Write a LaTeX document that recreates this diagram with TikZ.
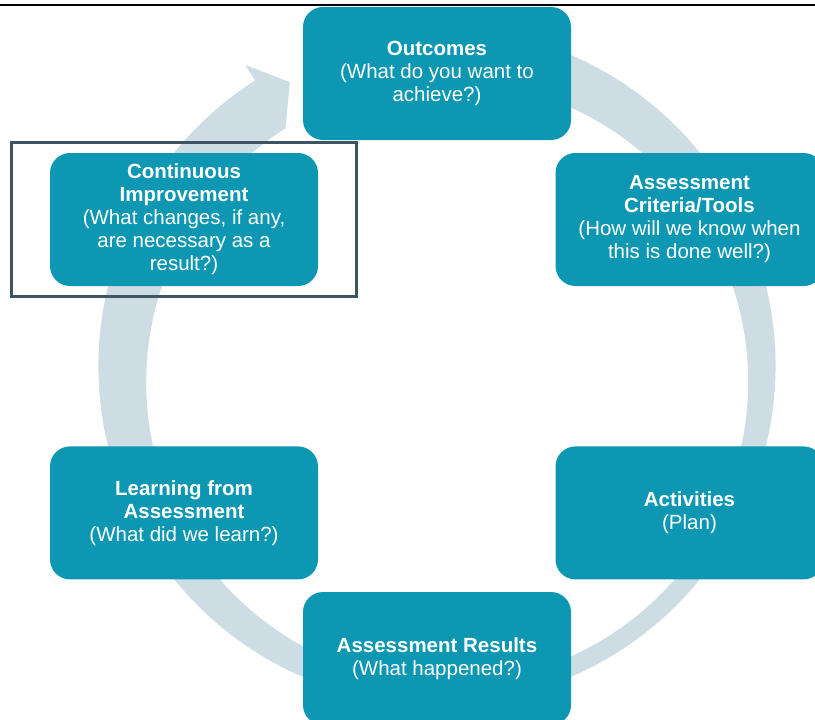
\documentclass[tikz,border=0pt]{standalone}
\usepackage{fontspec}
\setmainfont{Liberation Sans}
\usepackage{tikz}
\usetikzlibrary{positioning,fit,calc}
\definecolor{stageteal}{RGB}{13,151,178}
\definecolor{ringgray}{RGB}{205,221,227}
\definecolor{framegray}{RGB}{63,84,99}

\begin{document}
\begin{tikzpicture}[
    x=1pt, y=-1pt,
    stage/.style={rectangle, rounded corners=20pt, fill=stageteal, text=white, align=center, minimum width=268pt, minimum height=133pt, inner sep=2pt, font=\fontsize{20.5}{23}\selectfont},
    focusframe/.style={rectangle, draw=framegray, line width=3pt, inner xsep=38.5pt, inner ysep=10.5pt},
    ring/.style={fill=ringgray}
]
    \clip (0,0) rectangle (815,720);
    \draw[line width=2.5pt] (0,5) -- (815,5);

    \coordinate (c) at (437,366);
    \fill[ring] ($(c)+(-80:338.5)$) arc[start angle=-80, end angle=237.5, radius=338.5]
        -- ($(c)+(237.5:357)$) -- ($(c)+(242.6:319.75)$) -- ($(c)+(237.5:282)$)
        arc[start angle=237.5, end angle=-80, radius=301] -- cycle;

    \node[stage] (out) at (437,73.5) {\textbf{Outcomes}\\(What do you want to\\achieve?)};
    \node[stage] (crit) at (689.5,219.5) {\textbf{Assessment}\\\textbf{Criteria/Tools}\\(How will we know when\\this is done well?)};
    \node[stage, below=160pt of crit] (act) {\textbf{Activities}\\(Plan)};
    \node[stage] (res) at (437,658.5) {\textbf{Assessment Results}\\(What happened?)};
    \node[stage] (cont) at (184,219.5) {\textbf{Continuous}\\\textbf{Improvement}\\(What changes, if any,\\are necessary as a\\result?)};
    \node[stage, below=160pt of cont] (learn) {\textbf{Learning from}\\\textbf{Assessment}\\(What did we learn?)};

    \node[focusframe, fit=(cont)] (focus) {};
\end{tikzpicture}
\end{document}
